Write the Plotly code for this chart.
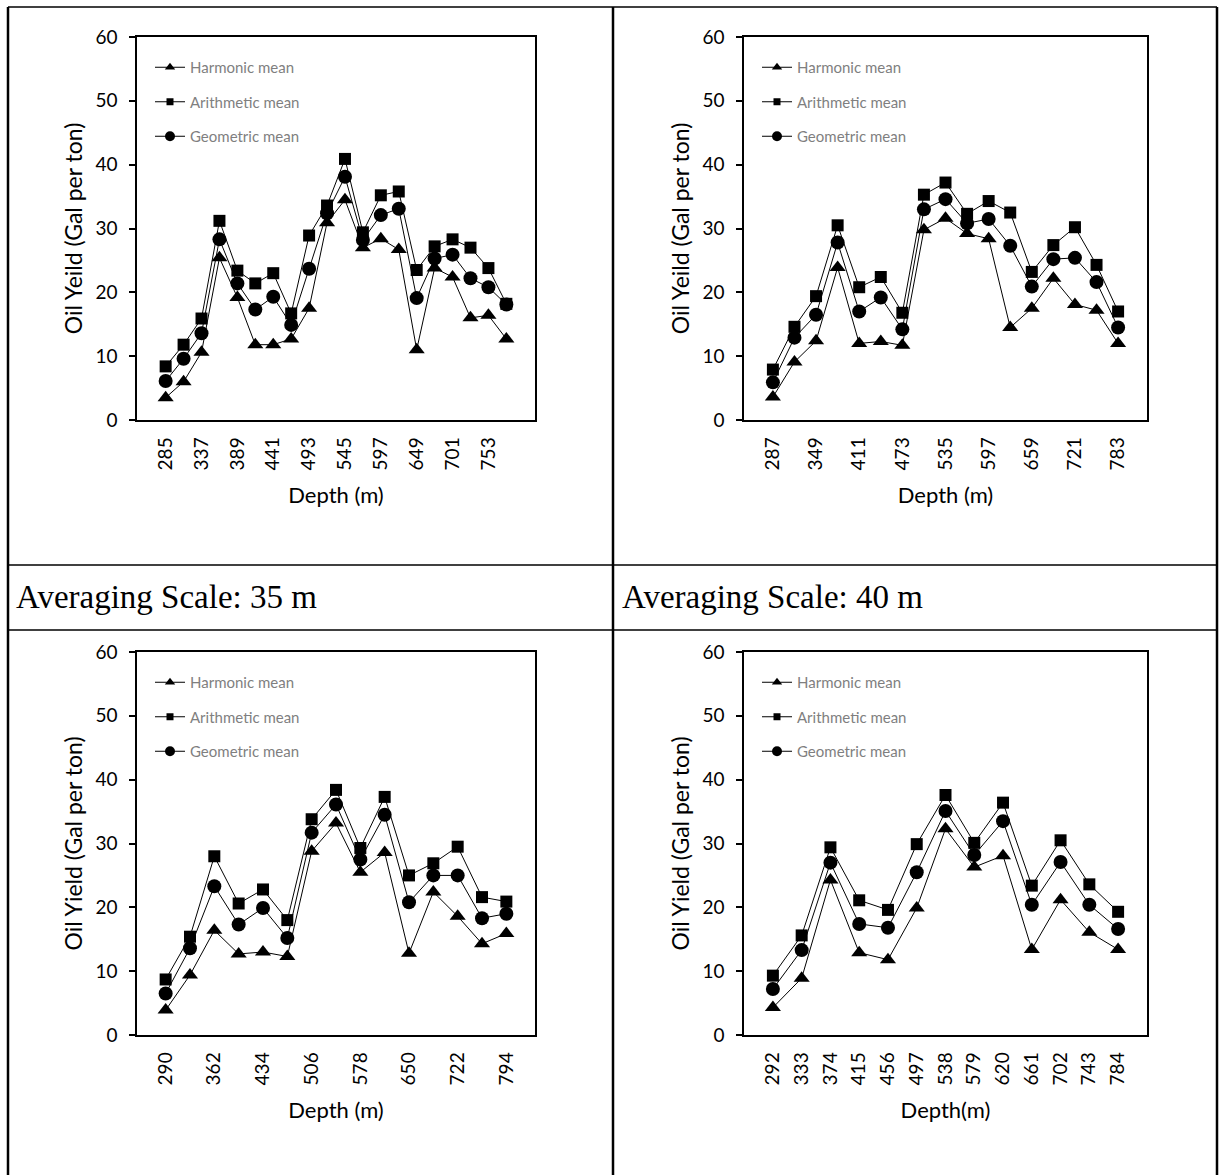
import plotly.graph_objects as go

# ---------------- data ----------------
depth_a = [285, 311, 337, 363, 389, 415, 441, 467, 493, 519, 545, 571, 597, 623, 649, 675, 701, 727, 753, 779]
harm_a = [3.5, 6.0, 10.6, 25.4, 19.2, 11.8, 11.8, 12.7, 17.5, 30.9, 34.5, 27.0, 28.4, 26.7, 11.0, 23.8, 22.4, 16.0, 16.4, 12.7]
arith_a = [8.4, 11.8, 15.9, 31.2, 23.4, 21.4, 23.0, 16.7, 28.9, 33.6, 40.9, 29.4, 35.2, 35.8, 23.5, 27.2, 28.3, 27.0, 23.8, 18.2]
geom_a = [6.1, 9.6, 13.6, 28.3, 21.4, 17.3, 19.3, 14.9, 23.7, 32.4, 38.1, 28.2, 32.1, 33.1, 19.1, 25.3, 25.9, 22.2, 20.8, 18.1]

depth_b = [287, 318, 349, 380, 411, 442, 473, 504, 535, 566, 597, 628, 659, 690, 721, 752, 783]
harm_b = [3.6, 9.1, 12.4, 23.9, 12.0, 12.3, 11.7, 29.8, 31.6, 29.2, 28.4, 14.5, 17.5, 22.2, 18.1, 17.2, 12.0]
arith_b = [7.9, 14.6, 19.4, 30.5, 20.8, 22.4, 16.8, 35.3, 37.2, 32.3, 34.3, 32.5, 23.2, 27.4, 30.2, 24.3, 17.0]
geom_b = [5.9, 12.9, 16.5, 27.8, 17.0, 19.2, 14.2, 33.0, 34.6, 30.8, 31.5, 27.3, 20.9, 25.2, 25.4, 21.6, 14.5]

depth_c = [290, 326, 362, 398, 434, 470, 506, 542, 578, 614, 650, 686, 722, 758, 794]
harm_c = [3.9, 9.4, 16.4, 12.7, 13.0, 12.3, 28.8, 33.2, 25.5, 28.6, 12.8, 22.4, 18.6, 14.3, 15.9]
arith_c = [8.7, 15.4, 28.0, 20.6, 22.8, 18.0, 33.8, 38.4, 29.3, 37.3, 25.0, 26.9, 29.5, 21.6, 20.9]
geom_c = [6.5, 13.6, 23.3, 17.3, 19.9, 15.2, 31.7, 36.1, 27.5, 34.5, 20.8, 25.0, 25.0, 18.3, 19.0]

depth_d = [292, 333, 374, 415, 456, 497, 538, 579, 620, 661, 702, 743, 784]
harm_d = [4.3, 8.9, 24.3, 12.9, 11.8, 19.9, 32.3, 26.3, 28.1, 13.4, 21.2, 16.1, 13.4]
arith_d = [9.3, 15.6, 29.4, 21.1, 19.6, 29.9, 37.6, 30.1, 36.4, 23.4, 30.5, 23.6, 19.3]
geom_d = [7.2, 13.3, 27.0, 17.4, 16.8, 25.5, 35.1, 28.2, 33.5, 20.4, 27.1, 20.4, 16.6]

series_names = ["Harmonic mean", "Arithmetic mean", "Geometric mean"]
y_titles = ["Oil Yeild (Gal per ton)", "Oil Yeild (Gal per ton)", "Oil Yield (Gal per ton)", "Oil Yield (Gal per ton)"]
x_titles = ["Depth (m)", "Depth (m)", "Depth (m)", "Depth(m)"]
tick_every = [2, 2, 2, 1]
captions = ["Averaging Scale: 35 m", "Averaging Scale: 40 m"]

# ---------------- layout geometry (pixels) ----------------
W, H = 1224, 1175
panels = [
    (depth_a, harm_a, arith_a, geom_a, (137, 535), (37, 420)),
    (depth_b, harm_b, arith_b, geom_b, (744, 1147), (37, 420)),
    (depth_c, harm_c, arith_c, geom_c, (137, 535), (652, 1035)),
    (depth_d, harm_d, arith_d, geom_d, (744, 1147), (652, 1035)),
]

FONT = "Lato"
symbols = ["triangle-up", "square", "circle"]
sizes = [14, 12, 14]
legend_sizes = [9, 7, 10]

fig = go.Figure()
layout = dict(
    width=W, height=H, margin=dict(l=0, r=0, t=0, b=0, autoexpand=False),
    paper_bgcolor="white", plot_bgcolor="white",
    font=dict(family=FONT, color="black"),
    showlegend=True,
)

for i, (dep, h, a, g, (x0, x1), (y0, y1)) in enumerate(panels):
    k = "" if i == 0 else str(i + 1)
    leg = "legend" + k
    cats = [str(d) for d in dep]
    for j, vals in enumerate([h, a, g]):
        fig.add_trace(go.Scatter(
            x=cats, y=vals, mode="lines+markers", name=series_names[j],
            line=dict(color="black", width=1),
            marker=dict(symbol=symbols[j], size=sizes[j], color="black"),
            xaxis="x" + k, yaxis="y" + k, showlegend=False,
        ))
        # legend entry with the small legend-sized marker
        fig.add_trace(go.Scatter(
            x=[None], y=[None], mode="lines+markers", name=series_names[j],
            line=dict(color="black", width=1),
            marker=dict(symbol=symbols[j], size=legend_sizes[j], color="black"),
            xaxis="x" + k, yaxis="y" + k, legend=leg, legendgroup=f"g{i}{j}",
            hoverinfo="skip",
        ))
    layout["xaxis" + k] = dict(
        domain=[x0 / W, x1 / W], anchor="y" + k, type="category",
        categoryorder="array", categoryarray=cats,
        tickvals=cats[::tick_every[i]], ticktext=cats[::tick_every[i]],
        tickangle=-90, tickfont=dict(size=19, family=FONT, color="black"),
        ticklabelstandoff=8,
        showline=True, linecolor="black", linewidth=1.5, mirror=True,
        ticks="", showgrid=False, zeroline=False, automargin=False,
        title=dict(text=x_titles[i], font=dict(size=22, family=FONT), standoff=18),
    )
    layout["yaxis" + k] = dict(
        domain=[1 - y1 / H, 1 - y0 / H], anchor="x" + k, range=[0, 60],
        tickvals=[0, 10, 20, 30, 40, 50, 60],
        tickfont=dict(size=19, family=FONT, color="black"),
        ticklabelstandoff=8,
        showline=True, linecolor="black", linewidth=1.5, mirror=True,
        ticks="outside", ticklen=6, tickcolor="black", tickwidth=1.5,
        showgrid=False, zeroline=False, automargin=False,
        title=dict(text=y_titles[i], font=dict(size=23, family=FONT), standoff=6),
    )
    layout[leg] = dict(
        x=(x0 + 13) / W, y=1 - (y0 + 14) / H, xanchor="left", yanchor="top",
        bgcolor="rgba(0,0,0,0)", borderwidth=0,
        font=dict(size=15, family=FONT, color="#7f7f7f"),
        tracegroupgap=12, traceorder="grouped", itemclick=False,
    )

# ---------------- table frame and captions ----------------
shapes = []
def line(xa, ya, xb, yb, w=2):
    shapes.append(dict(type="line", xref="paper", yref="paper",
                       x0=xa / W, y0=1 - ya / H, x1=xb / W, y1=1 - yb / H,
                       line=dict(color="black", width=w)))
line(8, 7, 1217, 7, 1.5)
line(8, 7, 8, H, 2.5)
line(1217, 7, 1217, H, 2.5)
line(613, 7, 613, H, 2.5)
line(8, 565, 1217, 565, 1.5)
line(8, 630, 1217, 630, 1.5)
layout["shapes"] = shapes

annotations = []
for cx, text in zip([14, 620], captions):
    annotations.append(dict(
        x=cx / W, y=1 - 597 / H, xref="paper", yref="paper",
        xanchor="left", yanchor="middle", showarrow=False, text=text,
        font=dict(family="Liberation Serif", size=33, color="black"),
    ))
layout["annotations"] = annotations

fig.update_layout(**layout)
fig.write_html(
    "out.html",
    config={"displayModeBar": False},
    post_script="document.body.style.margin='0';document.body.style.overflow='hidden';",
)
